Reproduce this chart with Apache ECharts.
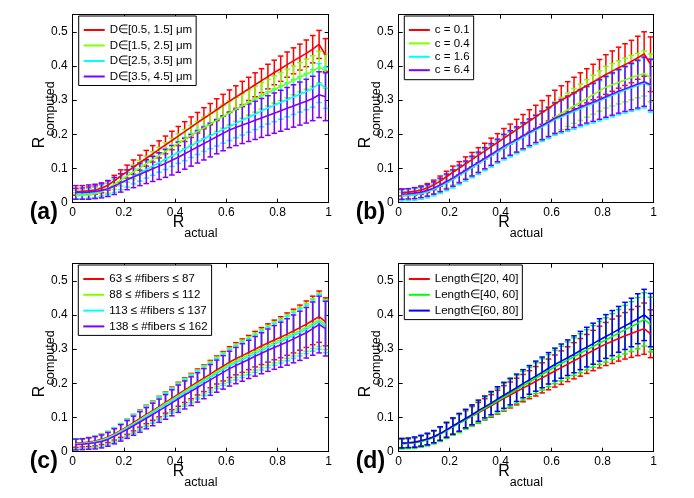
<!DOCTYPE html>
<html><head><meta charset="utf-8">
<script src="https://cdn.jsdelivr.net/npm/echarts@6/dist/echarts.min.js"></script>
<style>html,body{margin:0;padding:0;background:#fff}#c{width:694px;height:498px}</style>
</head><body><div id="c"></div>
<script>
// ---------- data ----------
const xActual = [0.0125,0.0375,0.0625,0.0875,0.1125,0.1375,0.1625,0.1875,0.2125,0.2375,0.2625,0.2875,0.3125,0.3375,0.3625,0.3875,0.4125,0.4375,0.4625,0.4875,0.5125,0.5375,0.5625,0.5875,0.6125,0.6375,0.6625,0.6875,0.7125,0.7375,0.7625,0.7875,0.8125,0.8375,0.8625,0.8875,0.9125,0.9375,0.9625,0.9875];
const xTickLabels = ['0','0.2','0.4','0.6','0.8','1'];
const yTickLabels = ['0','0.1','0.2','0.3','0.4','0.5'];

// (a) diameter
const aNames = ['D∈[0.5, 1.5] μm','D∈[1.5, 2.5] μm','D∈[2.5, 3.5] μm','D∈[3.5, 4.5] μm'];
const aRedMean = [0.032,0.033,0.035,0.037,0.042,0.051,0.064,0.078,0.091,0.104,0.117,0.130,0.143,0.156,0.169,0.182,0.195,0.208,0.221,0.234,0.247,0.259,0.272,0.285,0.297,0.309,0.321,0.333,0.345,0.357,0.369,0.381,0.392,0.404,0.415,0.426,0.437,0.449,0.463,0.432];
const aRedErr = [0.010,0.010,0.011,0.012,0.013,0.014,0.016,0.018,0.019,0.021,0.022,0.023,0.024,0.025,0.026,0.027,0.028,0.029,0.030,0.030,0.031,0.031,0.032,0.032,0.033,0.033,0.034,0.034,0.035,0.035,0.036,0.036,0.037,0.037,0.038,0.038,0.039,0.040,0.041,0.048];
const aGreenMean = [0.020,0.021,0.023,0.026,0.032,0.042,0.054,0.066,0.078,0.090,0.102,0.114,0.126,0.138,0.150,0.162,0.174,0.186,0.197,0.208,0.219,0.230,0.241,0.252,0.263,0.273,0.283,0.293,0.303,0.313,0.322,0.331,0.340,0.349,0.358,0.367,0.376,0.385,0.397,0.385];
const aGreenErr = [0.009,0.009,0.010,0.011,0.012,0.014,0.015,0.017,0.018,0.020,0.021,0.022,0.023,0.024,0.025,0.026,0.027,0.028,0.029,0.030,0.031,0.032,0.033,0.034,0.035,0.035,0.036,0.037,0.038,0.039,0.039,0.040,0.041,0.042,0.042,0.043,0.044,0.045,0.046,0.050];
const aCyanMean = [0.024,0.025,0.027,0.030,0.034,0.040,0.048,0.057,0.067,0.077,0.087,0.097,0.107,0.117,0.127,0.137,0.147,0.157,0.167,0.177,0.187,0.196,0.205,0.214,0.223,0.232,0.241,0.250,0.259,0.268,0.277,0.285,0.293,0.301,0.309,0.317,0.325,0.334,0.350,0.336];
const aCyanErr = [0.013,0.013,0.014,0.015,0.016,0.017,0.018,0.019,0.021,0.022,0.024,0.025,0.027,0.028,0.030,0.031,0.032,0.034,0.035,0.036,0.037,0.038,0.039,0.040,0.041,0.042,0.043,0.044,0.045,0.046,0.047,0.048,0.049,0.050,0.051,0.052,0.053,0.055,0.057,0.060];
const aPurpleMean = [0.030,0.030,0.031,0.033,0.036,0.041,0.049,0.058,0.067,0.075,0.083,0.091,0.099,0.107,0.115,0.124,0.133,0.143,0.153,0.163,0.173,0.183,0.193,0.203,0.213,0.220,0.227,0.234,0.241,0.248,0.255,0.262,0.269,0.276,0.283,0.290,0.297,0.305,0.316,0.310];
const aPurpleErr = [0.020,0.020,0.021,0.021,0.022,0.023,0.025,0.027,0.029,0.031,0.033,0.035,0.037,0.039,0.041,0.043,0.044,0.045,0.046,0.047,0.048,0.049,0.050,0.051,0.052,0.053,0.054,0.055,0.056,0.057,0.058,0.059,0.060,0.061,0.062,0.063,0.064,0.065,0.067,0.070];

// (b) c
const bNames = ['c = 0.1','c = 0.4','c = 1.6','c = 6.4'];
const bRedMean = [0.030,0.031,0.033,0.037,0.043,0.052,0.063,0.076,0.089,0.101,0.114,0.126,0.139,0.151,0.164,0.176,0.189,0.201,0.214,0.226,0.239,0.251,0.264,0.276,0.289,0.300,0.310,0.321,0.332,0.342,0.353,0.364,0.375,0.385,0.395,0.404,0.413,0.424,0.435,0.405];
const bRedErr = [0.010,0.010,0.011,0.012,0.013,0.014,0.015,0.016,0.018,0.019,0.020,0.021,0.022,0.023,0.025,0.026,0.028,0.029,0.030,0.032,0.033,0.034,0.035,0.037,0.040,0.042,0.044,0.046,0.048,0.050,0.052,0.055,0.058,0.059,0.060,0.061,0.062,0.063,0.065,0.080];
const bGreenMean = [0.020,0.021,0.023,0.027,0.032,0.040,0.050,0.061,0.072,0.083,0.094,0.105,0.116,0.127,0.138,0.149,0.160,0.171,0.182,0.193,0.205,0.216,0.227,0.238,0.250,0.261,0.272,0.283,0.294,0.305,0.316,0.327,0.338,0.345,0.352,0.359,0.366,0.372,0.378,0.365];
const bGreenErr = [0.010,0.010,0.011,0.012,0.013,0.014,0.016,0.018,0.020,0.022,0.023,0.025,0.026,0.028,0.029,0.031,0.032,0.034,0.035,0.037,0.038,0.040,0.041,0.043,0.045,0.047,0.049,0.051,0.053,0.055,0.057,0.059,0.061,0.062,0.063,0.064,0.065,0.065,0.066,0.070];
const bCyanMean = [0.021,0.022,0.024,0.027,0.032,0.039,0.048,0.058,0.068,0.080,0.091,0.103,0.114,0.126,0.137,0.149,0.161,0.171,0.181,0.192,0.202,0.212,0.222,0.232,0.243,0.251,0.259,0.267,0.275,0.283,0.290,0.298,0.306,0.314,0.322,0.329,0.336,0.343,0.350,0.341];
const bCyanErr = [0.016,0.016,0.017,0.017,0.018,0.019,0.021,0.023,0.025,0.027,0.028,0.030,0.031,0.032,0.033,0.034,0.036,0.037,0.038,0.039,0.040,0.041,0.043,0.044,0.046,0.048,0.050,0.052,0.053,0.055,0.057,0.059,0.061,0.063,0.065,0.067,0.069,0.071,0.073,0.076];
const bPurpleMean = [0.025,0.026,0.028,0.031,0.036,0.043,0.052,0.062,0.072,0.084,0.095,0.107,0.118,0.130,0.141,0.153,0.165,0.175,0.185,0.196,0.206,0.216,0.226,0.236,0.247,0.255,0.263,0.271,0.279,0.287,0.294,0.302,0.310,0.318,0.326,0.333,0.340,0.347,0.354,0.345];
const bPurpleErr = [0.015,0.015,0.016,0.016,0.017,0.018,0.020,0.022,0.024,0.026,0.027,0.029,0.030,0.031,0.032,0.033,0.035,0.036,0.037,0.038,0.039,0.040,0.042,0.043,0.045,0.047,0.049,0.051,0.052,0.054,0.056,0.058,0.060,0.062,0.064,0.066,0.068,0.070,0.072,0.075];

// (c) number of fibers
const cNames = ['63 ≤ #fibers ≤ 87','88 ≤ #fibers ≤ 112','113 ≤ #fibers ≤ 137','138 ≤ #fibers ≤ 162'];
const cRedMean = [0.025,0.026,0.028,0.031,0.036,0.043,0.052,0.062,0.073,0.085,0.097,0.109,0.120,0.132,0.144,0.156,0.168,0.180,0.192,0.204,0.215,0.227,0.239,0.250,0.262,0.272,0.281,0.290,0.300,0.309,0.318,0.327,0.335,0.344,0.353,0.363,0.373,0.384,0.395,0.380];
const cRedErr = [0.012,0.012,0.013,0.014,0.015,0.016,0.018,0.020,0.022,0.024,0.025,0.027,0.028,0.030,0.031,0.033,0.035,0.036,0.037,0.038,0.039,0.040,0.041,0.043,0.045,0.047,0.049,0.050,0.052,0.054,0.056,0.058,0.060,0.062,0.064,0.066,0.068,0.071,0.075,0.070];
const cGreenMean = [0.023,0.024,0.026,0.029,0.034,0.041,0.050,0.060,0.071,0.082,0.094,0.106,0.117,0.129,0.141,0.152,0.164,0.176,0.188,0.199,0.211,0.222,0.234,0.245,0.256,0.266,0.275,0.284,0.293,0.302,0.311,0.320,0.328,0.337,0.346,0.355,0.364,0.375,0.386,0.372];
const cGreenErr = [0.014,0.014,0.015,0.016,0.017,0.018,0.020,0.022,0.024,0.026,0.027,0.029,0.030,0.032,0.033,0.035,0.037,0.038,0.039,0.040,0.041,0.042,0.043,0.045,0.047,0.049,0.051,0.052,0.054,0.056,0.058,0.060,0.062,0.064,0.066,0.068,0.070,0.073,0.078,0.073];
const cCyanMean = [0.022,0.023,0.025,0.028,0.032,0.039,0.048,0.058,0.069,0.080,0.091,0.103,0.114,0.126,0.137,0.149,0.160,0.172,0.183,0.195,0.206,0.217,0.229,0.240,0.251,0.260,0.269,0.278,0.287,0.296,0.305,0.314,0.322,0.331,0.340,0.349,0.358,0.369,0.380,0.366];
const cCyanErr = [0.015,0.015,0.016,0.017,0.018,0.019,0.021,0.023,0.025,0.027,0.028,0.030,0.031,0.033,0.034,0.036,0.038,0.039,0.040,0.041,0.042,0.043,0.044,0.046,0.048,0.050,0.052,0.053,0.055,0.057,0.059,0.061,0.063,0.065,0.067,0.069,0.071,0.075,0.080,0.076];
const cPurpleMean = [0.021,0.022,0.024,0.026,0.030,0.036,0.045,0.055,0.065,0.076,0.087,0.098,0.109,0.120,0.131,0.143,0.155,0.166,0.177,0.188,0.199,0.210,0.221,0.232,0.243,0.252,0.261,0.270,0.279,0.288,0.297,0.305,0.313,0.321,0.330,0.339,0.348,0.360,0.372,0.360];
const cPurpleErr = [0.016,0.016,0.017,0.018,0.019,0.020,0.022,0.024,0.026,0.028,0.030,0.031,0.033,0.034,0.036,0.038,0.040,0.041,0.042,0.043,0.044,0.045,0.047,0.049,0.051,0.053,0.055,0.056,0.058,0.060,0.062,0.064,0.066,0.068,0.070,0.072,0.074,0.078,0.083,0.080];

// (d) length
const dNames = ['Length∈[20, 40]','Length∈[40, 60]','Length∈[60, 80]'];
const dRedMean = [0.024,0.025,0.027,0.031,0.036,0.043,0.052,0.063,0.074,0.084,0.094,0.104,0.114,0.124,0.134,0.145,0.156,0.166,0.176,0.186,0.196,0.206,0.216,0.226,0.236,0.246,0.256,0.266,0.276,0.286,0.296,0.306,0.315,0.323,0.331,0.339,0.346,0.353,0.360,0.345];
const dRedErr = [0.013,0.013,0.014,0.015,0.016,0.017,0.019,0.021,0.023,0.025,0.026,0.028,0.030,0.031,0.033,0.035,0.037,0.038,0.039,0.040,0.041,0.043,0.044,0.045,0.047,0.049,0.051,0.053,0.055,0.057,0.059,0.061,0.063,0.065,0.066,0.068,0.070,0.072,0.075,0.070];
const dGreenMean = [0.023,0.024,0.026,0.030,0.035,0.042,0.051,0.062,0.073,0.083,0.094,0.105,0.116,0.127,0.138,0.149,0.160,0.171,0.182,0.193,0.204,0.215,0.226,0.237,0.248,0.258,0.268,0.278,0.288,0.298,0.308,0.318,0.327,0.337,0.347,0.357,0.366,0.376,0.387,0.372];
const dGreenErr = [0.015,0.015,0.016,0.017,0.018,0.019,0.021,0.023,0.025,0.027,0.028,0.030,0.032,0.033,0.035,0.037,0.039,0.040,0.041,0.042,0.043,0.045,0.046,0.047,0.049,0.051,0.053,0.055,0.057,0.059,0.061,0.063,0.065,0.067,0.069,0.071,0.073,0.075,0.078,0.080];
const dBlueMean = [0.025,0.026,0.028,0.032,0.037,0.044,0.053,0.064,0.075,0.086,0.097,0.108,0.120,0.131,0.142,0.154,0.165,0.176,0.187,0.199,0.210,0.221,0.232,0.244,0.255,0.265,0.275,0.285,0.296,0.306,0.316,0.327,0.337,0.347,0.358,0.368,0.378,0.389,0.400,0.385];
const dBlueErr = [0.014,0.014,0.015,0.016,0.017,0.018,0.020,0.022,0.024,0.026,0.027,0.029,0.031,0.032,0.034,0.036,0.038,0.039,0.040,0.041,0.042,0.044,0.045,0.046,0.048,0.050,0.052,0.054,0.056,0.058,0.060,0.062,0.064,0.066,0.067,0.069,0.071,0.073,0.075,0.078];

// ---------- layout / style ----------
const FONT = '"Liberation Sans", Arial, Helvetica, sans-serif';
const C = {red:'#ff0000', lime:'#80ff00', cyan:'#00ffff', purple:'#8000ff', green:'#00ff00', blue:'#0000ff'};

const panels = [
  {letter:'(a)', rect:[72.7,14.7,256,188],
   legend:{left:78.7, top:16, gap:3.5, pad:[8,4,3,5]},
   series:[[aNames[0],C.red,aRedMean,aRedErr],[aNames[1],C.lime,aGreenMean,aGreenErr],[aNames[2],C.cyan,aCyanMean,aCyanErr],[aNames[3],C.purple,aPurpleMean,aPurpleErr]]},
  {letter:'(b)', rect:[398.7,14.7,255,188],
   legend:{left:404.3, top:16, gap:1.4, pad:[8,4,3.5,4.5]},
   series:[[bNames[0],C.red,bRedMean,bRedErr],[bNames[1],C.lime,bGreenMean,bGreenErr],[bNames[2],C.cyan,bCyanMean,bCyanErr],[bNames[3],C.purple,bPurpleMean,bPurpleErr]]},
  {letter:'(c)', rect:[72.7,263.7,256,188],
   legend:{left:78.3, top:265, gap:3.8, pad:[8,4,3,5]},
   series:[[cNames[0],C.red,cRedMean,cRedErr],[cNames[1],C.lime,cGreenMean,cGreenErr],[cNames[2],C.cyan,cCyanMean,cCyanErr],[cNames[3],C.purple,cPurpleMean,cPurpleErr]]},
  {letter:'(d)', rect:[398.7,263.7,255,188],
   legend:{left:404.3, top:265, gap:3.8, pad:[8,4,3,4.5]},
   series:[[dNames[0],C.red,dRedMean,dRedErr],[dNames[1],C.green,dGreenMean,dGreenErr],[dNames[2],C.blue,dBlueMean,dBlueErr]]}
];

const grid = [], xAxis = [], yAxis = [], series = [], legend = [], graphic = [];
const axisLineStyle = {color:'#000', width:1};

panels.forEach((p, i) => {
  const [L, T, W, H] = p.rect;
  grid.push({left:L, top:T, width:W, height:H, containLabel:false});
  xAxis.push({gridIndex:i, type:'value', min:0, max:1, interval:0.2, position:'bottom',
    axisLine:{show:true, onZero:false, lineStyle:axisLineStyle},
    axisTick:{show:true, inside:true, length:4, lineStyle:axisLineStyle},
    axisLabel:{color:'#000', fontSize:12, fontFamily:FONT, margin:4,
      formatter:(v)=>xTickLabels[Math.round(v/0.2)] ?? ''},
    splitLine:{show:false}});
  xAxis.push({gridIndex:i, type:'value', min:0, max:1, interval:0.2, position:'top',
    axisLine:{show:true, onZero:false, lineStyle:axisLineStyle},
    axisTick:{show:true, inside:true, length:4, lineStyle:axisLineStyle},
    axisLabel:{show:false}, splitLine:{show:false}});
  yAxis.push({gridIndex:i, type:'value', min:0, max:0.55, interval:0.1, position:'left',
    axisLine:{show:true, onZero:false, lineStyle:axisLineStyle},
    axisTick:{show:true, inside:true, length:4, lineStyle:axisLineStyle},
    axisLabel:{color:'#000', fontSize:12, fontFamily:FONT, margin:5, showMaxLabel:false,
      formatter:(v)=>{const k=Math.round(v/0.1); return Math.abs(v-k*0.1)<1e-6 ? (yTickLabels[k] ?? '') : '';}},
    splitLine:{show:false}});
  yAxis.push({gridIndex:i, type:'value', min:0, max:0.55, interval:0.1, position:'right',
    axisLine:{show:true, onZero:false, lineStyle:axisLineStyle},
    axisTick:{show:true, inside:true, length:4, lineStyle:axisLineStyle},
    axisLabel:{show:false}, splitLine:{show:false}});

  p.series.forEach(([name, color, mean, err]) => {
    series.push({
      type:'custom', name:name + ' err', xAxisIndex:2*i, yAxisIndex:2*i, silent:true,
      encode:{x:0, y:[1,2]},
      data: xActual.map((x,k)=>[x, mean[k]-err[k], mean[k]+err[k]]),
      renderItem:(params, api)=>{
        const x = api.value(0);
        const a = api.coord([x, api.value(1)]);
        const b = api.coord([x, api.value(2)]);
        const hw = 2.8;
        const style = {stroke:color, lineWidth:1.5, fill:null};
        return {type:'group', children:[
          {type:'line', shape:{x1:a[0], y1:a[1], x2:b[0], y2:b[1]}, style},
          {type:'line', shape:{x1:a[0]-hw, y1:a[1], x2:a[0]+hw, y2:a[1]}, style},
          {type:'line', shape:{x1:b[0]-hw, y1:b[1], x2:b[0]+hw, y2:b[1]}, style}
        ]};
      }
    });
    series.push({
      type:'line', name, xAxisIndex:2*i, yAxisIndex:2*i, silent:true,
      data: xActual.map((x,k)=>[x, mean[k]]),
      showSymbol:false, symbol:'none',
      lineStyle:{width:1.6, color}, itemStyle:{color}
    });
  });

  legend.push({
    data:p.series.map(s=>s[0]), orient:'vertical', left:p.legend.left, top:p.legend.top,
    icon:'rect', itemWidth:21, itemHeight:2, itemGap:p.legend.gap, padding:p.legend.pad,
    borderColor:'#000', borderWidth:1, backgroundColor:'#fff', selectedMode:false,
    textStyle:{fontSize:11.5, color:'#000', fontFamily:FONT, lineHeight:12}
  });

  graphic.push({type:'text', x:L-43, y:T+H+10, silent:true,
    style:{text:p.letter, font:'bold 23px '+FONT, fill:'#000', align:'left', verticalAlign:'middle'}});
  graphic.push({type:'text', x:L+W/2-28, y:T+H+19.5, silent:true,
    style:{text:'R', font:'16px '+FONT, fill:'#000', align:'left', verticalAlign:'middle'}});
  graphic.push({type:'text', x:L+W/2-16.5, y:T+H+30.5, silent:true,
    style:{text:'actual', font:'12.5px '+FONT, fill:'#000', align:'left', verticalAlign:'middle'}});
  graphic.push({type:'text', x:L-33.2, y:T+H/2+39.6, rotation:Math.PI/2, silent:true,
    style:{text:'R', font:'16px '+FONT, fill:'#000', align:'left', verticalAlign:'middle'}});
  graphic.push({type:'text', x:L-22, y:T+H/2+27.5, rotation:Math.PI/2, silent:true,
    style:{text:'computed', font:'12.5px '+FONT, fill:'#000', align:'left', verticalAlign:'middle'}});
});

const chart = echarts.init(document.getElementById('c'), null, {renderer:'canvas'});
chart.setOption({animation:false, backgroundColor:'#fff', grid, xAxis, yAxis, series, legend, graphic, tooltip:{show:false}});
</script>
</body></html>
